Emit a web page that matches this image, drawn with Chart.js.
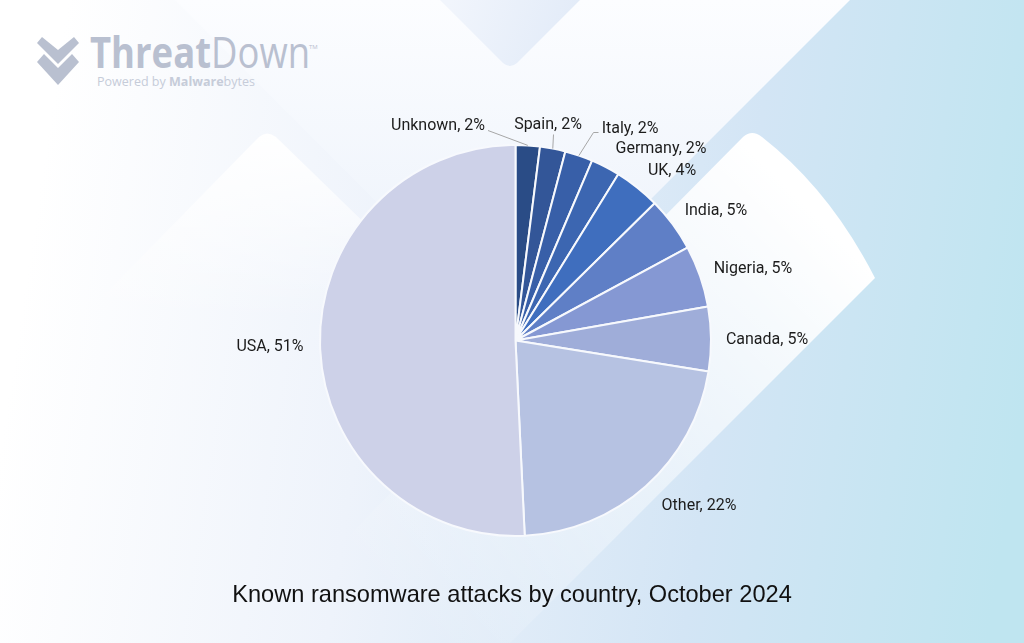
<!DOCTYPE html>
<html>
<head>
<meta charset="utf-8">
<title>Known ransomware attacks by country, October 2024</title>
<script src="https://cdn.jsdelivr.net/npm/chart.js@4"></script>
<style>
  html, body { margin: 0; padding: 0; width: 1024px; height: 643px; overflow: hidden; background: #fff; }
  #backdrop, #logo, #chart { position: absolute; left: 0; top: 0; }
</style>
</head>
<body>
<svg id="backdrop" width="1024" height="643" viewBox="0 0 1024 643">
  <defs>
    <linearGradient id="base" gradientUnits="userSpaceOnUse" x1="30" y1="250" x2="1024" y2="400">
      <stop offset="0" stop-color="#ffffff"/>
      <stop offset="0.35" stop-color="#eef3fb"/>
      <stop offset="0.7" stop-color="#d3e5f5"/>
      <stop offset="1" stop-color="#bfe5f0"/>
    </linearGradient>
    <linearGradient id="fadeTop" gradientUnits="userSpaceOnUse" x1="0" y1="0" x2="0" y2="338">
      <stop offset="0" stop-color="#fcfdff"/>
      <stop offset="1" stop-color="#e9f0fa"/>
    </linearGradient>
    <linearGradient id="notch" gradientUnits="userSpaceOnUse" x1="450" y1="0" x2="570" y2="50">
      <stop offset="0" stop-color="#f1f5fc"/>
      <stop offset="1" stop-color="#e2ebf8"/>
    </linearGradient>
    <linearGradient id="fadeLeft" gradientUnits="userSpaceOnUse" x1="0" y1="133" x2="0" y2="320">
      <stop offset="0" stop-color="#ffffff" stop-opacity="1"/>
      <stop offset="1" stop-color="#ffffff" stop-opacity="0"/>
    </linearGradient>
    <linearGradient id="fadeRight" gradientUnits="userSpaceOnUse" x1="812" y1="212" x2="407" y2="617">
      <stop offset="0" stop-color="#ffffff" stop-opacity="1"/>
      <stop offset="1" stop-color="#ffffff" stop-opacity="0"/>
    </linearGradient>
  </defs>
  <rect width="1024" height="643" fill="url(#base)"/>
  <polygon points="175,0 850,0 512,338" fill="url(#fadeTop)"/>
  <path d="M440,0 L580,0 L517,63 Q510,69 503,63 Z" fill="url(#notch)"/>
  <path d="M259,137 Q267,130 276,137 L380,238 L380,340 L60,340 Z" fill="url(#fadeLeft)"/>
  <path d="M743,137 Q752,129 762,137 Q830,190 875,278 L350,803 L280,605 Z" fill="url(#fadeRight)"/>
</svg>

<svg id="logo" width="340" height="100" viewBox="0 0 340 100">
  <path d="M37,43 L42,37 L58,50 L74,37 L79,43 L58,64 Z" fill="#b9c0d0"/>
  <path d="M37,62 L44,54 L58,68 L72,54 L79,62 L58,85 Z" fill="#b9c0d0"/>
  <text x="90" y="68" font-family="Open Sans" font-size="43" fill="#b9c0d0" textLength="220" lengthAdjust="spacingAndGlyphs"><tspan font-weight="700">Threat</tspan><tspan font-weight="400">Down</tspan></text>
  <text x="309" y="49" font-family="Open Sans" font-size="6" fill="#b9c0d0">TM</text>
  <text x="97" y="86" font-family="Open Sans" font-size="13" fill="#c6ccd9" textLength="158" lengthAdjust="spacingAndGlyphs">Powered by <tspan font-weight="700">Malware</tspan>bytes</text>
</svg>

<canvas id="chart" width="1024" height="643"></canvas>

<script>
const countries = ["Unknown", "Spain", "Italy", "Germany", "UK", "India", "Nigeria", "Canada", "Other", "USA"];
const shares = [2.0, 2.1, 2.3, 2.4, 3.8, 4.5, 5.1, 5.3, 21.7, 50.7];
const sliceColors = ["#2a4c86", "#335698", "#385fa8", "#3c66b1", "#3f6ebe", "#5f7fc6", "#8598d3", "#9fadd9", "#b6c2e2", "#cdd1e8"];
const chartTitle = "Known ransomware attacks by country, October 2024";

// label centres, measured from the pie centre
const labelOffsets = [
  [-77.5, -215], [32.5, -216], [114.5, -212], [145.5, -192], [156.5, -170],
  [200.5, -130], [237.5, -72], [251.5, -1], [183.5, 165], [-245.5, 6]
];
// leader lines only on the three crowded slices, elbow points from the pie centre
const leaders = {
  0: [[-27.5, -210]],
  1: [[38, -206]],
  2: [[78, -208], [83, -208]]
};

const sliceLabels = {
  id: "sliceLabels",
  afterDatasetsDraw(chart) {
    const ctx = chart.ctx;
    const total = shares.reduce((a, b) => a + b, 0);
    ctx.save();
    chart.getDatasetMeta(0).data.forEach((arc, i) => {
      const p = arc.getProps(["x", "y", "startAngle", "endAngle", "outerRadius"], true);
      const mid = (p.startAngle + p.endAngle) / 2;
      if (leaders[i]) {
        ctx.beginPath();
        ctx.moveTo(p.x + Math.cos(mid) * p.outerRadius, p.y + Math.sin(mid) * p.outerRadius);
        for (const pt of leaders[i]) {
          ctx.lineTo(p.x + pt[0], p.y + pt[1]);
        }
        ctx.strokeStyle = "#a6a6a6";
        ctx.lineWidth = 1;
        ctx.stroke();
      }
      ctx.font = "16px Roboto";
      ctx.fillStyle = "#1c1c1c";
      ctx.textAlign = "center";
      ctx.textBaseline = "middle";
      const pct = Math.round(shares[i] / total * 100);
      ctx.fillText(countries[i] + ", " + pct + "%", p.x + labelOffsets[i][0], p.y + labelOffsets[i][1]);
    });

    // title sits on the page centre, the pie is a little to the right of it
    ctx.font = "23.6px Arial, 'Liberation Sans', sans-serif";
    ctx.fillStyle = "#111111";
    ctx.textAlign = "center";
    ctx.textBaseline = "middle";
    ctx.fillText(chartTitle, chart.width / 2, 595);
    ctx.restore();
  }
};

new Chart(document.getElementById("chart").getContext("2d"), {
  type: "pie",
  plugins: [sliceLabels],
  data: {
    labels: countries,
    datasets: [{
      data: shares,
      backgroundColor: sliceColors,
      borderColor: "#f7f9fd",
      borderWidth: 2
    }]
  },
  options: {
    responsive: false,
    animation: false,
    layout: { padding: { left: 319, right: 312, top: 144, bottom: 106 } },
    plugins: {
      legend: { display: false },
      tooltip: { enabled: false }
    }
  }
});
</script>
</body>
</html>
